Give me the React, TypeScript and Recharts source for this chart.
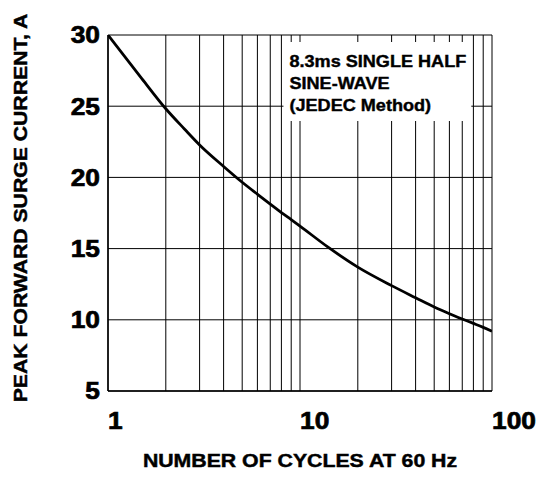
import { LineChart, Line, XAxis, YAxis, CartesianGrid, ReferenceArea } from "recharts";

// ─── Data ─────────────────────────────────────────────────────────────────────
const CYCLES = [1, 1.5, 2, 2.5, 3, 4, 5, 6, 7, 8, 9, 10, 14, 20, 30, 40, 50, 60, 70, 80, 90, 100];
const SURGE_A = [30, 26.94, 24.82, 23.4, 22.28, 20.77, 19.66, 18.82, 18.12, 17.53, 17.03, 16.58, 15.1, 13.7, 12.4, 11.55, 10.9, 10.43, 10.06, 9.75, 9.47, 9.2];
const X_GRID = [1, 2, 3, 4, 5, 6, 7, 8, 9, 10, 20, 30, 40, 50, 60, 70, 80, 90, 100];
const X_LABELS = [1, 10, 100];
const Y_TICKS = [5, 10, 15, 20, 25, 30];
const NOTE_LINES = ["8.3ms SINGLE HALF", "SINE-WAVE", "(JEDEC Method)"];

const X_TITLE = "NUMBER OF CYCLES AT 60 Hz";
const Y_TITLE = "PEAK FORWARD SURGE CURRENT, A";

const data = CYCLES.map((c, i) => ({ cycles: c, amps: SURGE_A[i] }));

const FONT = '"Liberation Sans", Arial, Helvetica, sans-serif';

// ─── Stretched heavy text (the original lettering is wide and dark) ───────────
const Stretch = ({ x, y, size, sx = 1.15, rotate = 0, anchor = "start", heavy = 0.45, children }: any) => (
  <text
    transform={`translate(${x},${y}) rotate(${rotate}) scale(${sx},1)`}
    textAnchor={anchor}
    fontFamily={FONT}
    fontWeight="bold"
    fontSize={size}
    fill="#000"
    stroke="#000"
    strokeWidth={heavy}
  >
    {children}
  </text>
);

const XTick = ({ x, y, payload }: any) =>
  X_LABELS.includes(payload.value) ? (
    <Stretch x={x} y={y + 29.5} size={23.5} sx={1.12} heavy={0.7}>{payload.value}</Stretch>
  ) : (
    <g />
  );

const YTick = ({ x, y, payload }: any) => (
  <Stretch x={x} y={y + 8.4} size={23.5} sx={1.12} heavy={0.7} anchor="end">{payload.value}</Stretch>
);

const XTitle = ({ viewBox }: any) => (
  <Stretch x={viewBox.x + viewBox.width / 2} y={viewBox.y + 75.5} size={18.5} sx={1.15} anchor="middle">
    {X_TITLE}
  </Stretch>
);

const YTitle = ({ viewBox }: any) => (
  <Stretch x={viewBox.x + 26.7} y={viewBox.y + viewBox.height / 2 - 5} size={18.6} sx={1.14} rotate={-90} anchor="middle">
    {Y_TITLE}
  </Stretch>
);

const NoteLabel = ({ viewBox }: any) => (
  <g>
    {NOTE_LINES.map((line, i) => (
      <Stretch key={i} x={viewBox.x + 6} y={viewBox.y + 25 + i * 22} size={16.3} sx={1.11} heavy={0.4}>
        {line}
      </Stretch>
    ))}
  </g>
);

// ─── Chart ────────────────────────────────────────────────────────────────────
export default function App() {
  return (
    <div style={{ position: "absolute", left: 0, top: 0, width: 540, height: 478, background: "#fff" }}>
      <LineChart width={540} height={478} data={data} margin={{ top: 35, right: 48, bottom: 0, left: 0 }}>
        <CartesianGrid stroke="#000" strokeWidth={1} />
        <XAxis
          dataKey="cycles"
          type="number"
          scale="log"
          domain={[1, 100]}
          ticks={X_GRID}
          interval={0}
          height={87}
          tickLine={false}
          tickSize={0}
          tickMargin={8}
          axisLine={{ stroke: "#000", strokeWidth: 1.5 }}
          tick={<XTick />}
          label={{ content: <XTitle /> }}
          allowDataOverflow
        />
        <YAxis
          type="number"
          domain={[5, 30]}
          ticks={Y_TICKS}
          interval={0}
          width={108}
          tickLine={false}
          tickSize={6}
          tickMargin={2}
          axisLine={{ stroke: "#000", strokeWidth: 1.5 }}
          tick={<YTick />}
          label={{ content: <YTitle /> }}
          allowDataOverflow
        />
        <ReferenceArea
          x1={8.2}
          x2={78}
          y1={23.96}
          y2={29.5}
          fill="#fff"
          fillOpacity={1}
          stroke="none"
          label={{ content: <NoteLabel /> }}
        />
        <Line
          dataKey="amps"
          type="monotone"
          stroke="#000"
          strokeWidth={2.8}
          dot={false}
          isAnimationActive={false}
        />
      </LineChart>
    </div>
  );
}
